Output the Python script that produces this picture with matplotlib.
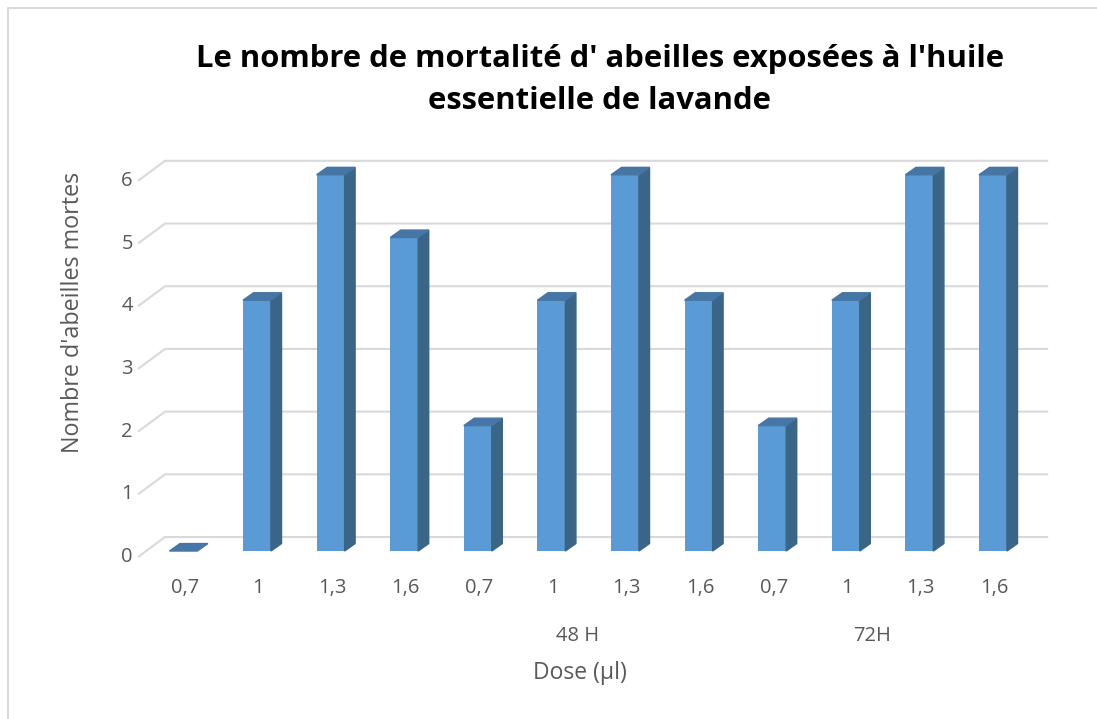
import matplotlib.pyplot as plt
from matplotlib.patches import Polygon
from matplotlib.lines import Line2D

# données
doses = ['0,7', '1', '1,3', '1,6', '0,7', '1', '1,3', '1,6', '0,7', '1', '1,3', '1,6']
groupes = ['', '48 H', '72H']
mortes = [0, 4, 6, 5, 2, 4, 6, 4, 2, 4, 6, 6]
graduations = [0, 1, 2, 3, 4, 5, 6]

plt.rcParams['font.family'] = ['Open Sans', 'DejaVu Sans']
gris_txt = '#595959'
gris_grille = '#D9D9D9'
face = '#5B9BD5'
cote = '#3B6587'
dessus = '#4676A5'

fig = plt.figure(figsize=(10.97, 7.19), dpi=100)
ax = fig.add_axes([0, 0, 1, 1])
ax.set_xlim(-2.492, 12.413)
ax.set_ylim(-2.679, 8.788)
ax.axis('off')

# profondeur du pseudo 3D (unités des données)
dx, dy = 0.143, 0.119
larg = 0.38
x_dos0, x_dos1, x_av = -0.25, 11.75, -0.617
y_dos, y_av = 0.223, -0.096

# quadrillage : diagonale avant + ligne du fond
for v in graduations:
    ax.plot([x_av, x_dos0, x_dos1], [v + y_av, v + y_dos, v + y_dos],
            color=gris_grille, lw=1.5, zorder=1, solid_capstyle='butt')
    ax.text(-0.766, v + y_av, str(v), ha='center', va='center',
            fontsize=14.5, color=gris_txt)

# barres
pos = list(range(len(mortes)))
ax.bar(pos, mortes, width=larg, color=face, zorder=3)
for x, h in zip(pos, mortes):
    g, d = x - larg / 2, x + larg / 2
    if h > 0:
        ax.add_patch(Polygon([(d, 0), (d + dx, dy), (d + dx, h + dy), (d, h)],
                             closed=True, color=cote, zorder=3))
    ax.add_patch(Polygon([(g, h), (d, h), (d + dx, h + dy), (g + dx, h + dy)],
                         closed=True, color=dessus, zorder=3))

# étiquettes des catégories
for x, lab in zip(pos, doses):
    ax.text(x + 0.02, -0.59, lab, ha='center', va='center', fontsize=14.5, color=gris_txt)
for k, lab in enumerate(groupes):
    ax.text(4 * k + 1.35, -1.356, lab, ha='center', va='center', fontsize=14.5, color=gris_txt)

ax.text(5.39, -1.946, 'Dose (µl)', ha='center', va='center', fontsize=16.5, color=gris_txt)
ax.text(-1.499, 3.80, "Nombre d'abeilles mortes", ha='center', va='center',
        rotation=90, fontsize=16.8, color=gris_txt)

fig.text(600 / 1097, 1 - 80 / 719,
         "Le nombre de mortalité d' abeilles exposées à l'huile\nessentielle de lavande",
         ha='center', va='center', fontsize=22.3, fontweight='bold', color='black',
         linespacing=1.48)

# cadre du graphique (gauche et haut)
fig.add_artist(Line2D([8 / 1097, 8 / 1097, 1.0], [0.0, 1 - 8 / 719, 1 - 8 / 719],
                      transform=fig.transFigure, color=gris_grille, lw=1.5))

fig.savefig('out.png', dpi=100)
